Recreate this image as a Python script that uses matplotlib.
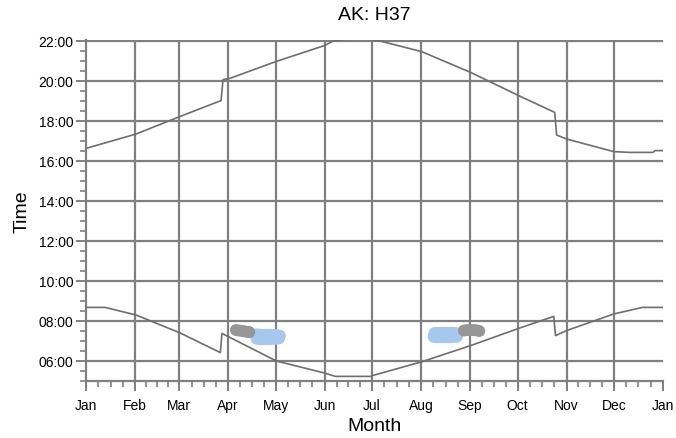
import matplotlib
matplotlib.use("Agg")
import matplotlib.pyplot as plt
from matplotlib.ticker import FixedLocator, FuncFormatter, MultipleLocator

plt.rcParams['font.family'] = ['Liberation Sans', 'DejaVu Sans']

# ---- data (day of year, hour of day) ----
sunrise_day = [0, 12, 31.7, 59.6, 85, 86, 120.4, 150.8, 157.8, 180, 181.2,
               212.3, 243.3, 273.7, 295.9, 297, 304, 333.8, 352, 365]
sunrise_hr = [8.68, 8.68, 8.30, 7.40, 6.42, 7.38, 6.00, 5.40, 5.23, 5.23, 5.27,
              5.96, 6.77, 7.63, 8.23, 7.27, 7.52, 8.35, 8.68, 8.68]

sunset_day = [0, 31.7, 59.6, 85.4, 86.7, 90.6, 120.4, 150.8, 156.4, 171,
              186, 212.3, 243.3, 273.7, 296.5, 297.7, 304, 333.8, 344, 358.7,
              360, 365]
sunset_hr = [16.63, 17.35, 18.23, 19.02, 20.07, 20.12, 20.98, 21.77, 22.0, 22.15,
             22.0, 21.47, 20.43, 19.27, 18.43, 17.30, 17.10, 16.47, 16.43, 16.43,
             16.52, 16.52]

# observation clusters (day of year, hour)
blue_day = [107.5, 109, 111, 113, 115, 117, 119, 121, 122.5,
            108, 110, 112, 114, 116, 118, 120, 122,
            220.5, 222, 224, 226, 228, 230, 232, 234, 235,
            220, 221, 223, 225, 227, 229, 231, 233, 234.5]
blue_hr = [7.32, 7.32, 7.30, 7.30, 7.30, 7.30, 7.30, 7.28, 7.26,
           7.12, 7.10, 7.10, 7.10, 7.10, 7.12, 7.12, 7.14,
           7.38, 7.40, 7.40, 7.40, 7.40, 7.40, 7.40, 7.38, 7.36,
           7.22, 7.20, 7.20, 7.20, 7.20, 7.20, 7.20, 7.22, 7.22]
gray_day = [94.8, 96, 97.5, 99, 100.5, 102, 103, 103.3,
            239, 240.5, 242, 243.5, 245, 246.5, 248, 248.8]
gray_hr = [7.55, 7.53, 7.52, 7.50, 7.48, 7.46, 7.45, 7.44,
           7.52, 7.54, 7.55, 7.55, 7.55, 7.54, 7.52, 7.50]

month_days = [0, 31, 59, 90, 120, 151, 181, 212, 243, 273, 304, 334, 365]
month_labels = ['Jan', 'Feb', 'Mar', 'Apr', 'May', 'Jun', 'Jul', 'Aug',
                'Sep', 'Oct', 'Nov', 'Dec', 'Jan']
hour_ticks = [6, 8, 10, 12, 14, 16, 18, 20, 22]

# ---- figure ----
W, H = 676, 439
fig = plt.figure(figsize=(W / 100, H / 100), dpi=100)
ax = fig.add_axes([86 / W, (H - 382) / H, 577 / W, 341 / H])

grid_c = '#808080'
line_c = '#6e6e6e'

ax.scatter(blue_day, blue_hr, s=78, color='#a6c8ef', edgecolors='none', zorder=3)
ax.scatter(gray_day, gray_hr, s=72, color='#969696', edgecolors='none', zorder=4)

ax.plot(sunrise_day, sunrise_hr, color=line_c, lw=1.2, zorder=5)
ax.plot(sunset_day, sunset_hr, color=line_c, lw=1.2, zorder=5)

ax.set_xlim(0, 365)
ax.set_ylim(5, 22.05)

ax.xaxis.set_major_locator(FixedLocator(month_days))
ax.set_xticklabels(month_labels)
minor_x = []
for a, b in zip(month_days[:-1], month_days[1:]):
    for k in (1, 2, 3):
        minor_x.append(a + (b - a) * k / 4)
ax.xaxis.set_minor_locator(FixedLocator(minor_x))

ax.yaxis.set_major_locator(FixedLocator(hour_ticks))
ax.yaxis.set_major_formatter(FuncFormatter(lambda v, p: f"{int(round(v)):02d}:00"))
ax.yaxis.set_minor_locator(MultipleLocator(0.5))

ax.grid(True, which='major', color=grid_c, lw=1.6, zorder=1)
ax.set_axisbelow(True)
gl = ax.xaxis.get_gridlines()
gl[0].set_visible(False)
gl[-1].set_visible(False)

for s in ('top', 'right'):
    ax.spines[s].set_visible(False)
for s in ('left', 'bottom'):
    ax.spines[s].set_color(grid_c)
    ax.spines[s].set_linewidth(1.6)

ax.tick_params(axis='both', which='major', length=7, width=1.4, color=grid_c,
               labelsize=10, labelcolor='black')
ax.tick_params(axis='both', which='minor', length=4, width=1.2, color=grid_c)
ax.tick_params(axis='x', which='major', pad=5)
ax.tick_params(axis='y', which='major', pad=2)

ax.set_title('AK: H37', fontsize=14, pad=15)
ax.set_xlabel('Month', fontsize=14, labelpad=4)
ax.set_ylabel('Time', fontsize=14, labelpad=6)

fig.savefig('out.png', dpi=100)
